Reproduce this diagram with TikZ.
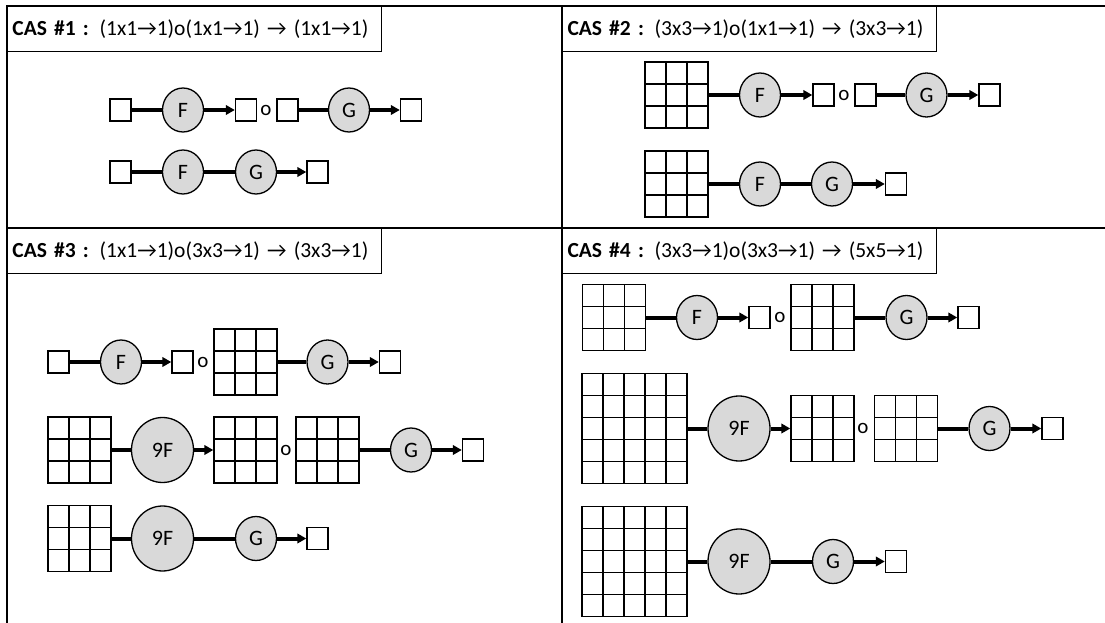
\documentclass[tikz,border=0pt]{standalone}
\usepackage{fontspec}
\setmainfont{Carlito}
\usetikzlibrary{arrows.meta,shapes.geometric}

\definecolor{fngray}{HTML}{D9D9D9}

\tikzset{
  frame/.style={line width=2pt},
  title/.style={draw, line width=1pt, anchor=north west, inner xsep=5pt, text width=364pt, minimum height=45pt, font=\fontsize{21.5}{26}\selectfont},
  cell/.style={draw, line width=1.4pt, minimum width=21pt, minimum height=22pt, inner sep=0pt},
  mesh/.style={cell, minimum width=#1*21pt, minimum height=#1*22pt, path picture={
      \pgfmathtruncatemacro\nlast{#1-1}
      \foreach \k in {1,...,\nlast}{
        \draw[line width=1.4pt] ([xshift=\k*21pt]path picture bounding box.north west) -- ([xshift=\k*21pt]path picture bounding box.south west);
        \draw[line width=1.4pt] ([yshift=-\k*22pt]path picture bounding box.north west) -- ([yshift=-\k*22pt]path picture bounding box.north east);
      }}},
  fn/.style={ellipse, draw, fill=fngray, line width=1.3pt, minimum width=41pt, minimum height=44pt, inner sep=0pt, font=\fontsize{22}{26}\selectfont},
  bigfn/.style={fn, minimum width=62pt, minimum height=65pt},
  comp/.style={inner sep=0pt, font=\fontsize{21}{25}\selectfont},
  link/.style={line width=4pt},
  flow/.style={link, -{Triangle[length=9pt,width=9.5pt]}},
}

\begin{document}
\begin{tikzpicture}[x=1pt, y=-1pt]
\useasboundingbox (0,0) rectangle (1105,623);
\draw[frame] (7,623) -- (7,6) -- (1105,6);
\draw[frame] (562,6) -- (562,623);
\draw[frame] (7,228) -- (1105,228);

\node[title] (t1) at (7,6) {\textbf{CAS \#1 :} (1x1→1)o(1x1→1) → (1x1→1)};
\node[title] (t2) at (562,6) {\textbf{CAS \#2 :} (3x3→1)o(1x1→1) → (3x3→1)};
\node[title] (t3) at (7,228) {\textbf{CAS \#3 :} (1x1→1)o(3x3→1) → (3x3→1)};
\node[title] (t4) at (562,228) {\textbf{CAS \#4 :} (3x3→1)o(3x3→1) → (5x5→1)};

\node[cell] (a1) at (120.5,110) {};
\node[fn] (a2) at (183,110) {F};
\node[cell] (a3) at (246,110) {};
\node[comp] (a4) at (266,110) {o};
\node[cell] (a5) at (287.5,110) {};
\node[fn] (a6) at (349,110) {G};
\node[cell] (a7) at (411,110) {};
\draw[link] (a1) -- (a2);
\draw[flow] (a2) -- (a3);
\draw[link] (a5) -- (a6);
\draw[flow] (a6) -- (a7);

\node[cell] (b1) at (120.5,172) {};
\node[fn] (b2) at (183,172) {F};
\node[fn] (b3) at (256,172) {G};
\node[cell] (b4) at (317.5,172) {};
\draw[link] (b1) -- (b2);
\draw[link] (b2) -- (b3);
\draw[flow] (b3) -- (b4);

\node[mesh=3] (d1) at (676.5,95) {};
\node[fn] (d2) at (760,95) {F};
\node[cell] (d3) at (823.5,95) {};
\node[comp] (d4) at (844,95) {o};
\node[cell] (d5) at (865.5,95) {};
\node[fn] (d6) at (926.5,95) {G};
\node[cell] (d7) at (989.5,95) {};
\draw[link] (d1) -- (d2);
\draw[flow] (d2) -- (d3);
\draw[link] (d5) -- (d6);
\draw[flow] (d6) -- (d7);

\node[mesh=3] (e1) at (676.5,184) {};
\node[fn] (e2) at (760,184) {F};
\node[fn] (e3) at (832,184) {G};
\node[cell] (e4) at (896,184) {};
\draw[link] (e1) -- (e2);
\draw[link] (e2) -- (e3);
\draw[flow] (e3) -- (e4);

\node[cell] (g1) at (58.5,362) {};
\node[fn] (g2) at (121,362) {F};
\node[cell] (g3) at (182.5,362) {};
\node[comp] (g4) at (203,362) {o};
\node[mesh=3] (g5) at (245.5,362) {};
\node[fn] (g6) at (327.5,362) {G};
\node[cell] (g7) at (390,362) {};
\draw[link] (g1) -- (g2);
\draw[flow] (g2) -- (g3);
\draw[link] (g5) -- (g6);
\draw[flow] (g6) -- (g7);

\node[mesh=3] (h1) at (79.5,450) {};
\node[bigfn] (h2) at (162.5,450) {9F};
\node[mesh=3] (h3) at (245.5,450) {};
\node[comp] (h4) at (286,450) {o};
\node[mesh=3] (h5) at (327.5,450) {};
\node[fn] (h6) at (411,450) {G};
\node[cell] (h7) at (473,450) {};
\draw[link] (h1) -- (h2);
\draw[flow] (h2) -- (h3);
\draw[link] (h5) -- (h6);
\draw[flow] (h6) -- (h7);

\node[mesh=3] (k1) at (79.5,538.5) {};
\node[bigfn] (k2) at (162.5,538.5) {9F};
\node[fn] (k3) at (256,538.5) {G};
\node[cell] (k4) at (317.5,538.5) {};
\draw[link] (k1) -- (k2);
\draw[link] (k2) -- (k3);
\draw[flow] (k3) -- (k4);

\node[mesh=3] (m1) at (614,317.5) {};
\node[fn] (m2) at (697,317.5) {F};
\node[cell] (m3) at (759.5,317.5) {};
\node[comp] (m4) at (780,317.5) {o};
\node[mesh=3] (m5) at (822.5,317.5) {};
\node[fn] (m6) at (906.5,317.5) {G};
\node[cell] (m7) at (968.5,317.5) {};
\draw[link] (m1) -- (m2);
\draw[flow] (m2) -- (m3);
\draw[link] (m5) -- (m6);
\draw[flow] (m6) -- (m7);

\node[mesh=5] (n1) at (634.5,428.5) {};
\node[bigfn] (n2) at (739,428.5) {9F};
\node[mesh=3] (n3) at (822.5,428.5) {};
\node[comp] (n4) at (863,428.5) {o};
\node[mesh=3] (n5) at (906,428.5) {};
\node[fn] (n6) at (989.5,428.5) {G};
\node[cell] (n7) at (1052.5,428.5) {};
\draw[link] (n1) -- (n2);
\draw[flow] (n2) -- (n3);
\draw[link] (n5) -- (n6);
\draw[flow] (n6) -- (n7);

\node[mesh=5] (q1) at (634.5,561.5) {};
\node[bigfn] (q2) at (739,561.5) {9F};
\node[fn] (q3) at (833,561.5) {G};
\node[cell] (q4) at (896,561.5) {};
\draw[link] (q1) -- (q2);
\draw[link] (q2) -- (q3);
\draw[flow] (q3) -- (q4);
\end{tikzpicture}
\end{document}
